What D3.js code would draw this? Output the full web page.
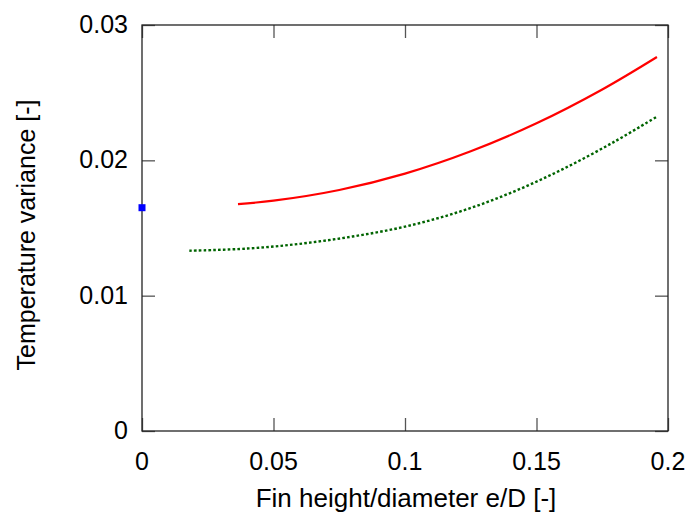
<!DOCTYPE html>
<html><head><meta charset="utf-8">
<script src="https://cdn.jsdelivr.net/npm/d3@7"></script>
<style>body{margin:0;background:#fff}text{font-family:"Liberation Sans",Arial,sans-serif}</style>
</head><body><svg id="c" width="690" height="519"></svg>
<script>
const xTicks = [0, 0.05, 0.1, 0.15, 0.2];
const xTickLabels = ["0", "0.05", "0.1", "0.15", "0.2"];
const yTicks = [0, 0.01, 0.02, 0.03];
const yTickLabels = ["0", "0.01", "0.02", "0.03"];
const redX = [0.0365, 0.05, 0.075, 0.1, 0.125, 0.15, 0.175, 0.1958];
const redY = [0.01677, 0.01702, 0.01781, 0.01902, 0.02067, 0.02274, 0.02524, 0.02764];
const greenX = [0.018, 0.04, 0.06, 0.08, 0.1, 0.12, 0.14, 0.16, 0.18, 0.1957];
const greenY = [0.01332, 0.01348, 0.01383, 0.01437, 0.01510, 0.01616, 0.01758, 0.01935, 0.02142, 0.02322];
const blueX = [0];
const blueY = [0.0165];
const xTitle = "Fin height/diameter e/D [-]";
const yTitle = "Temperature variance [-]";

const L = 142, R = 668, T = 25, B = 431;
const svg = d3.select("#c");
const x = d3.scaleLinear().domain([0, 0.2]).range([L, R]);
const y = d3.scaleLinear().domain([0, 0.03]).range([B, T]);

const tl = 13;
const g = svg.append("g");
g.append("g").attr("transform", `translate(0,${B})`)
  .call(d3.axisTop(x).tickValues(xTicks).tickSize(tl).tickFormat(""))
  .call(a => a.select(".domain").remove());
g.append("g").attr("transform", `translate(0,${T})`)
  .call(d3.axisBottom(x).tickValues(xTicks).tickSize(tl).tickFormat(""))
  .call(a => a.select(".domain").remove());
g.append("g").attr("transform", `translate(${L},0)`)
  .call(d3.axisRight(y).tickValues(yTicks).tickSize(tl).tickFormat(""))
  .call(a => a.select(".domain").remove());
g.append("g").attr("transform", `translate(${R},0)`)
  .call(d3.axisLeft(y).tickValues(yTicks).tickSize(tl).tickFormat(""))
  .call(a => a.select(".domain").remove());
g.selectAll(".tick line").attr("stroke", "#555").attr("stroke-width", 1.3);

svg.append("rect").attr("x", L).attr("y", T).attr("width", R - L).attr("height", B - T)
  .attr("fill", "none").attr("stroke", "#222").attr("stroke-width", 1.3);

const fs = 25;
svg.append("g").selectAll("text").data(xTicks).join("text")
  .attr("x", d => x(d)).attr("y", 470).attr("text-anchor", "middle")
  .attr("font-size", fs).attr("fill", "#000").text((d, i) => xTickLabels[i]);
svg.append("g").selectAll("text").data(yTicks).join("text")
  .attr("x", 128).attr("y", d => y(d)).attr("dy", "0.32em").attr("text-anchor", "end")
  .attr("font-size", fs).attr("fill", "#000").text((d, i) => yTickLabels[i]);

svg.append("text").attr("x", 406).attr("y", 507).attr("text-anchor", "middle")
  .attr("font-size", 26).text(xTitle);
svg.append("text").attr("transform", `translate(35,235) rotate(-90)`)
  .attr("text-anchor", "middle").attr("font-size", fs).text(yTitle);

const line = d3.line().x(d => x(d[0])).y(d => y(d[1])).curve(d3.curveCatmullRom);
svg.append("path").datum(redX.map((v, i) => [v, redY[i]])).attr("d", line)
  .attr("fill", "none").attr("stroke", "#ff0000").attr("stroke-width", 2.2);
svg.append("path").datum(greenX.map((v, i) => [v, greenY[i]])).attr("d", line)
  .attr("fill", "none").attr("stroke", "#006400").attr("stroke-width", 2.4)
  .attr("stroke-dasharray", "2.6,2.2");

svg.append("g").selectAll("rect").data(blueX).join("rect")
  .attr("x", d => x(d) - 3.5).attr("y", (d, i) => y(blueY[i]) - 3.5)
  .attr("width", 7).attr("height", 7).attr("fill", "#0000ff");
</script></body></html>
